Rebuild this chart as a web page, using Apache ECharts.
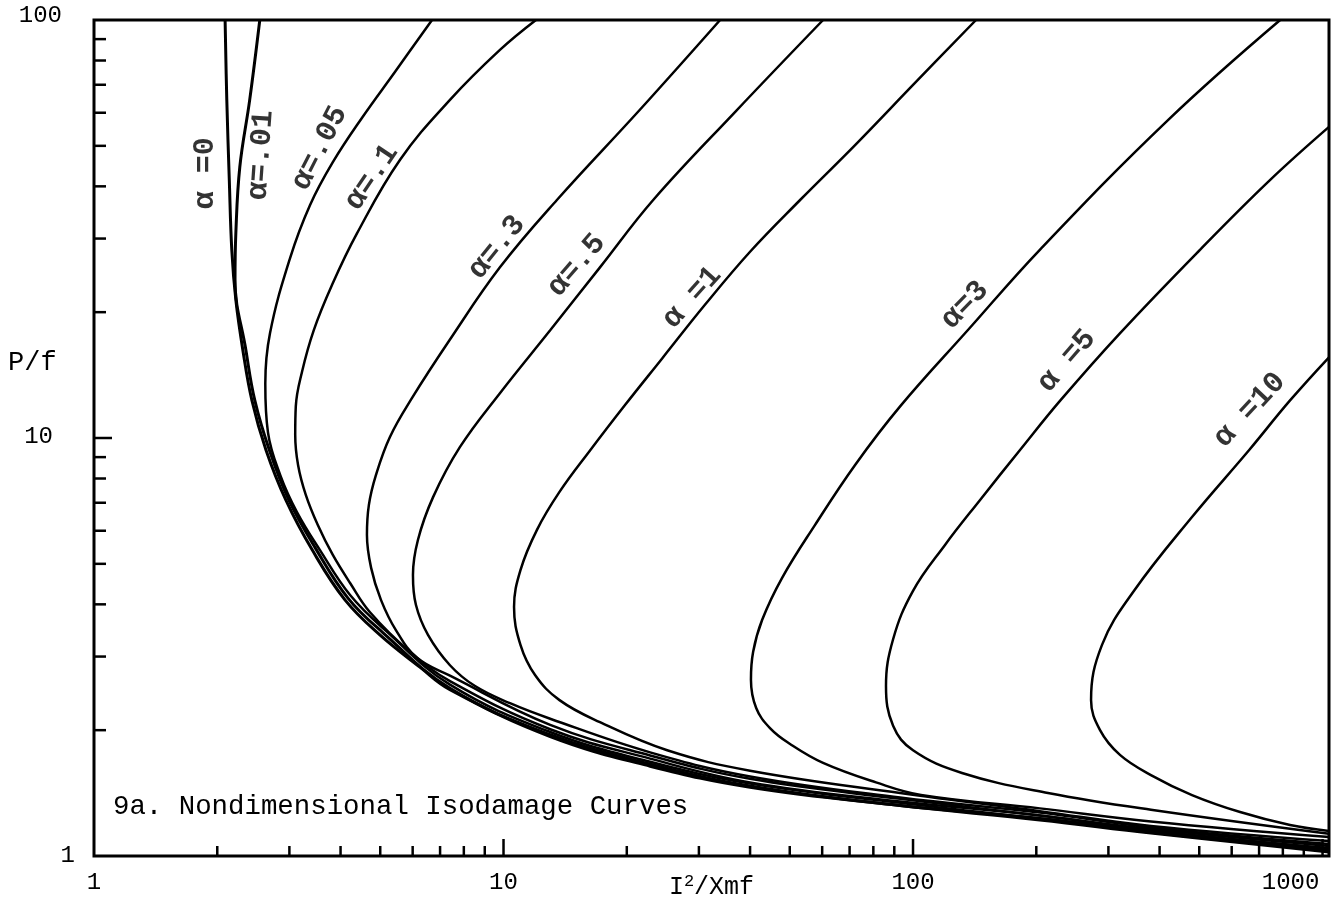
<!DOCTYPE html>
<html>
<head>
<meta charset="utf-8">
<script src="https://cdn.jsdelivr.net/npm/echarts@6/dist/echarts.min.js"></script>
<style>
  html, body { margin: 0; padding: 0; background: #fff; }
  #chart { width: 1340px; height: 907px; }
</style>
</head>
<body>
<div id="chart"></div>
<script>
// ---- Data (log-log axes) ----
const X_MIN = 1, X_MAX = 1037, Y_MIN = 1, Y_MAX = 100;

const xTickValues = [2,3,4,5,6,7,8,9,10,20,30,40,50,60,70,80,90,100,200,300,400,500,600,700,800,900,1000];
const yTickValues = [2,3,4,5,6,7,8,9,10,20,30,40,50,60,70,80,90];

const a0_x   = [2.09, 2.11, 2.14, 2.17, 2.22, 2.31, 2.43, 2.63, 2.94, 3.41, 4.10, 4.99, 6.25, 7.40, 13.0, 22.8, 40.0, 93.0, 204, 381, 1037];
const a0_y   = [100, 64.4, 41.4, 28.2, 21.4, 16.2, 12.3, 9.36, 7.11, 5.40, 4.10, 3.38, 2.83, 2.50, 1.93, 1.64, 1.46, 1.32, 1.22, 1.135, 1.022];

const a001_x = [2.54, 2.40, 2.27, 2.22, 2.21, 2.35, 2.47, 2.68, 2.99, 3.47, 4.17, 5.08, 7.40, 13.0, 22.8, 40.0, 93.0, 204, 381, 1037];
const a001_y = [100, 64.4, 44.5, 30.9, 23.9, 16.2, 12.3, 9.36, 7.11, 5.46, 4.14, 3.42, 2.52, 1.95, 1.66, 1.47, 1.32, 1.23, 1.14, 1.031];

const a005_x = [6.69, 5.43, 4.51, 3.83, 3.37, 3.01, 2.69, 2.62, 2.66, 2.85, 3.13, 3.56, 4.22, 5.14, 7.40, 13.0, 22.8, 40.0, 93.0, 204, 381, 1037];
const a005_y = [100, 75.1, 58.3, 45.7, 36.1, 26.9, 17.8, 13.5, 10.3, 8.15, 6.65, 5.40, 4.21, 3.47, 2.57, 1.98, 1.68, 1.49, 1.34, 1.23, 1.15, 1.039];

const a01_x  = [12.0, 9.80, 7.40, 5.59, 4.39, 3.81, 3.44, 3.22, 3.11, 3.10, 3.15, 3.29, 3.52, 3.83, 4.22, 4.72, 5.91, 7.40, 13.0, 22.8, 40.0, 93.0, 204, 381, 1037];
const a01_y  = [100, 84.8, 64.4, 46.3, 30.9, 23.2, 18.1, 14.39, 11.9, 10.17, 8.62, 7.31, 6.19, 5.25, 4.50, 3.83, 3.08, 2.62, 2.01, 1.71, 1.50, 1.35, 1.25, 1.15, 1.045];

const a03_x  = [33.8, 21.5, 13.5, 9.80, 7.40, 5.98, 5.28, 4.88, 4.69, 4.64, 4.75, 5.02, 5.46, 6.15, 7.40, 13.0, 22.8, 40.0, 93.0, 204, 381, 1037];
const a03_y  = [100, 60.9, 37.1, 25.6, 17.2, 12.47, 10.06, 8.15, 6.91, 5.86, 4.89, 4.10, 3.47, 2.98, 2.70, 2.06, 1.74, 1.53, 1.37, 1.25, 1.16, 1.057];

const a05_x  = [60.3, 36.8, 23.2, 17.2, 13.0, 9.80, 7.83, 6.73, 6.18, 6.01, 6.11, 6.54, 7.40, 8.52, 10.37, 13.0, 22.8, 40.0, 93.0, 204, 381, 1037];
const a05_y  = [100, 60.3, 37.1, 25.6, 18.1, 12.8, 9.52, 7.22, 5.70, 4.70, 3.99, 3.38, 2.86, 2.55, 2.32, 2.13, 1.77, 1.55, 1.38, 1.27, 1.17, 1.068];

const a1_x   = [142.5, 101.1, 72.2, 53.0, 40.0, 31.0, 24.4, 19.8, 16.3, 13.7, 12.07, 11.0, 10.61, 11.0, 11.94, 13.7, 17.2, 25.1, 40.0, 93.0, 204, 381, 1037];
const a1_y   = [100, 70.7, 50.2, 37.1, 27.9, 20.8, 15.5, 11.99, 9.36, 7.43, 6.03, 4.83, 3.94, 3.20, 2.71, 2.36, 2.09, 1.79, 1.60, 1.415, 1.28, 1.18, 1.086];

const a3_x   = [788, 420, 204, 136, 93.0, 72.2, 57.6, 47.9, 42.8, 40.7, 40.2, 41.4, 44.8, 50.1, 60.3, 81.2, 104.6, 204, 381, 1037];
const a3_y   = [100, 57.7, 28.2, 18.1, 11.9, 8.62, 6.19, 4.63, 3.67, 3.08, 2.64, 2.26, 2.02, 1.853, 1.67, 1.50, 1.40, 1.30, 1.21, 1.11];

const a5_x   = [1037, 744, 502, 320, 229, 182.5, 145.8, 119.7, 100, 89.4, 85.9, 89.4, 100, 131.7, 213.6, 381, 1037];
const a5_y   = [55.5, 41.4, 28.2, 17.8, 12.3, 9.36, 7.11, 5.55, 4.31, 3.30, 2.55, 2.05, 1.79, 1.58, 1.415, 1.29, 1.13];

const a10_x  = [1037, 833, 662, 480, 346.5, 289.4, 272.1, 286.2, 320.1, 381, 480, 629, 833, 1037];
const a10_y  = [15.6, 12.3, 9.36, 6.47, 4.31, 3.20, 2.36, 2.00, 1.745, 1.562, 1.399, 1.274, 1.186, 1.148];

const curveNames = ['α=0', 'α=.01', 'α=.05', 'α=.1', 'α=.3', 'α=.5', 'α=1', 'α=3', 'α=5', 'α=10'];
const curveXs = [a0_x, a001_x, a005_x, a01_x, a03_x, a05_x, a1_x, a3_x, a5_x, a10_x];
const curveYs = [a0_y, a001_y, a005_y, a01_y, a03_y, a05_y, a1_y, a3_y, a5_y, a10_y];

// Curve annotations (text, anchor in data units, angle)
const labelTexts  = ['α =0', 'α=.01', 'α=.05', 'α=.1', 'α=.3', 'α=.5', 'α =1', 'α=3', 'α =5', 'α =10'];
const labelX      = [1.867, 2.557, 3.56, 4.77, 9.64, 15.1, 28.9, 134, 237.7, 665];
const labelY      = [43.0, 47.5, 49.4, 42.1, 28.6, 25.9, 21.7, 20.8, 15.3, 11.67];
const labelAngle  = [90, 86, 63, 56, 51, 49, 48, 46, 49, 47];

// ---- Chart ----
const MONO = '"Liberation Mono", "DejaVu Sans Mono", monospace';
const chart = echarts.init(document.getElementById('chart'), null, { renderer: 'canvas' });

function isPow10(v) {
  const l = Math.log10(v);
  return Math.abs(l - Math.round(l)) < 1e-6;
}

function tickRenderer(isX) {
  return function (params, api) {
    const v = api.value(isX ? 0 : 1);
    const major = isPow10(v);
    const len = isX ? (major ? 17 : 10) : (major ? 18 : 12);
    const p = api.coord(isX ? [v, Y_MIN] : [X_MIN, v]);
    const shape = isX
      ? { x1: p[0], y1: p[1], x2: p[0], y2: p[1] - len }
      : { x1: p[0], y1: p[1], x2: p[0] + len, y2: p[1] };
    return { type: 'line', shape: shape, style: { stroke: '#000', lineWidth: 2.5 } };
  };
}

const curveSeries = curveNames.map((name, i) => ({
  name: name,
  type: 'line',
  data: curveXs[i].map((x, k) => [x, curveYs[i][k]]),
  showSymbol: false,
  symbol: 'none',
  smooth: 0.4,
  lineStyle: { color: '#000', width: i < 2 ? 3 : 2.5 },
  z: 3,
  silent: true
}));

const labelSeries = {
  type: 'scatter',
  symbolSize: 1,
  itemStyle: { color: 'rgba(0,0,0,0)' },
  silent: true,
  z: 5,
  data: labelTexts.map((t, i) => ({
    name: t,
    value: [labelX[i], labelY[i]],
    label: { rotate: labelAngle[i] }
  })),
  label: {
    show: true,
    position: 'inside',
    formatter: p => p.name,
    color: '#000',
    fontFamily: MONO,
    fontSize: 30,
    fontWeight: 'bold',
    align: 'center',
    verticalAlign: 'middle'
  },
  labelLayout: { hideOverlap: false }
};

const option = {
  animation: false,
  backgroundColor: '#fff',
  title: {
    text: '9a. Nondimensional Isodamage Curves',
    left: 113,
    top: 793,
    padding: 0,
    textStyle: { fontFamily: MONO, fontSize: 27.4, fontWeight: 'normal', color: '#000' }
  },
  grid: {
    left: 94, right: 11, top: 20, bottom: 51,
    containLabel: false,
    outerBoundsMode: 'none',
    show: true, borderColor: '#000', borderWidth: 3, backgroundColor: 'transparent'
  },
  xAxis: {
    type: 'log', logBase: 10, min: X_MIN, max: X_MAX,
    splitLine: { show: false },
    axisLine: { show: false },
    axisTick: { show: false },
    axisLabel: {
      margin: 15,
      color: '#000',
      fontFamily: MONO,
      fontSize: 24,
      formatter: function (v) {
        if (!isPow10(v)) return '';
        const s = String(Math.round(v));
        return s === '1000' ? '{k|' + s + '}' : s;
      },
      rich: { k: { fontFamily: MONO, fontSize: 24, color: '#000', padding: [0, 64, 0, 0] } }
    },
    name: 'I{sup|2}/Xmf',
    nameLocation: 'middle',
    nameGap: 17,
    nameMoveOverlap: false,
    nameTextStyle: {
      fontFamily: MONO, fontSize: 25, color: '#000', verticalAlign: 'top',
      rich: { sup: { fontFamily: MONO, fontSize: 17, color: '#000', verticalAlign: 'bottom', padding: [0, 0, 12, 0] } }
    }
  },
  yAxis: {
    type: 'log', logBase: 10, min: Y_MIN, max: Y_MAX,
    splitLine: { show: false },
    axisLine: { show: false },
    axisTick: { show: false },
    axisLabel: {
      margin: 19,
      color: '#000',
      fontFamily: MONO,
      fontSize: 24,
      align: 'right',
      formatter: function (v) {
        if (!isPow10(v)) return '';
        const s = String(Math.round(v));
        if (s === '100') return '{h|100}';
        if (s === '10') return '{t|10}';
        return s;
      },
      rich: {
        h: { fontFamily: MONO, fontSize: 24, color: '#000', padding: [0, 13, 8, 0] },
        t: { fontFamily: MONO, fontSize: 24, color: '#000', padding: [0, 22, 3, 0] }
      }
    }
  },
  graphic: [
    { type: 'text', left: 8, top: 349, style: { text: 'P/f', font: '27px ' + MONO, fill: '#000' } }
  ],
  series: curveSeries.concat([
    labelSeries,
    {
      type: 'custom',
      renderItem: tickRenderer(true),
      data: xTickValues.map(v => [v, Y_MIN]),
      silent: true,
      z: 6
    },
    {
      type: 'custom',
      renderItem: tickRenderer(false),
      data: yTickValues.map(v => [X_MIN, v]),
      silent: true,
      z: 6
    }
  ])
};

chart.setOption(option);
</script>
</body>
</html>
